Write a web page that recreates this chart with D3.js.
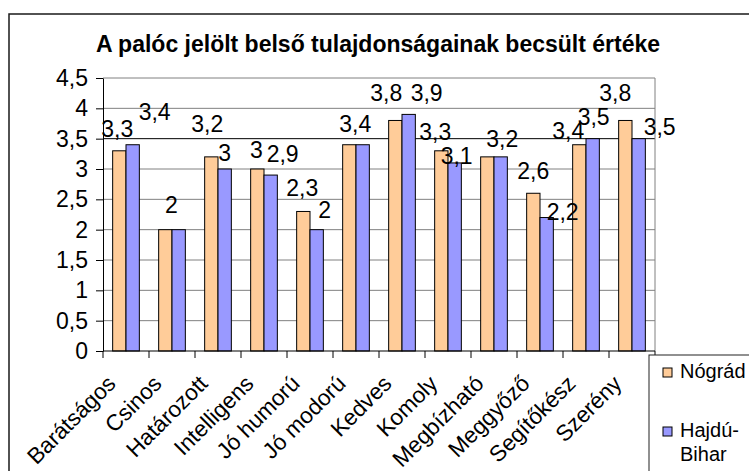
<!DOCTYPE html>
<html>
<head>
<meta charset="utf-8">
<script src="https://cdn.jsdelivr.net/npm/d3@7"></script>
<style>
  body { margin: 0; background: #fff; }
  svg { display: block; font-family: "Liberation Sans", Arial, sans-serif; }
</style>
</head>
<body>
<div id="vis"></div>
<script>
const WIDTH = 749
const HEIGHT = 471

const title = 'A palóc jelölt belső tulajdonságainak becsült értéke'
const categories = ['Barátságos', 'Csinos', 'Határozott', 'Intelligens', 'Jó humorú', 'Jó modorú',
	'Kedves', 'Komoly', 'Megbízható', 'Meggyőző', 'Segítőkész', 'Szerény']
const seriesNames = ['Nógrád', 'Hajdú-Bihar']
const nogradValues = [3.3, 2, 3.2, 3, 2.3, 3.4, 3.8, 3.3, 3.2, 2.6, 3.4, 3.8]
const hajduValues = [3.4, 2, 3, 2.9, 2, 3.4, 3.9, 3.1, 3.2, 2.2, 3.5, 3.5]
const yTicks = [0, 0.5, 1, 1.5, 2, 2.5, 3, 3.5, 4, 4.5]

const seriesColors = ['#ffcc99', '#9999ff']

// the data labels in the original were dragged by hand: [dx, dy] from the bar top, null = hidden
const nogradLabelShift = [[-2, -14], [6, -17], [-4, -25], [-1, -11], [-1, -15], [6, -13],
	[-9, -19], [-6, -11], [15, -10], [0, -14], [-11, -6], [-10, -19]]
const hajduLabelShift = [[22, -25], null, [0, -8], [12, -13], [8, -12], null,
	[18, -13], [2, 1], null, [16, 2], [1, -14], [21, -4]]

const huLocale = d3.formatLocale({ decimal: ',', thousands: ' ', grouping: [3], currency: ['', ' Ft'] })
const fmt = huLocale.format('~g')

const margin = { left: 103, right: 655, top: 78, bottom: 351 }

let svg = d3.select('#vis')
	.append('svg')
	.attr('width', WIDTH)
	.attr('height', HEIGHT)

// outer chart border (runs off the right and bottom of the picture)
svg.append('rect')
	.attr('x', 9).attr('y', 14)
	.attr('width', WIDTH + 20).attr('height', HEIGHT + 20)
	.attr('fill', '#fff')
	.attr('stroke', '#1a1a1a')
	.attr('stroke-width', 1.5)

svg.append('text')
	.attr('x', 378)
	.attr('y', 52)
	.attr('text-anchor', 'middle')
	.style('font-size', '23px')
	.style('font-weight', 'bold')
	.text(title)

let x = d3.scaleBand()
	.domain(categories)
	.range([margin.left, margin.right])
	.paddingInner(0.42)
	.paddingOuter(0.21)

let x1 = d3.scaleBand()
	.domain(seriesNames)
	.range([0, x.bandwidth()])

let y = d3.scaleLinear()
	.domain([0, 4.5])
	.range([margin.bottom, margin.top])

// gridlines
svg.append('g')
	.selectAll('line')
	.data(yTicks.slice(1))
	.enter()
	.append('line')
	.attr('x1', margin.left)
	.attr('x2', margin.right)
	.attr('y1', d => y(d))
	.attr('y2', d => y(d))
	.attr('stroke', d => d === 3.5 ? '#000' : '#808080')
	.attr('stroke-width', 1)

svg.append('line')
	.attr('x1', margin.right).attr('x2', margin.right)
	.attr('y1', margin.top).attr('y2', margin.bottom)
	.attr('stroke', '#808080')

// bars
let series = [
	{ name: seriesNames[0], values: nogradValues, shift: nogradLabelShift, color: seriesColors[0] },
	{ name: seriesNames[1], values: hajduValues, shift: hajduLabelShift, color: seriesColors[1] }
]

series.forEach(s => {
	svg.append('g')
		.selectAll('rect')
		.data(s.values)
		.enter()
		.append('rect')
		.attr('x', (d, i) => x(categories[i]) + x1(s.name))
		.attr('y', d => y(d))
		.attr('width', x1.bandwidth())
		.attr('height', d => y(0) - y(d))
		.attr('fill', s.color)
		.attr('stroke', '#000')
		.attr('stroke-width', 1)
})

// data labels
series.forEach(s => {
	svg.append('g')
		.selectAll('text')
		.data(s.values.map((v, i) => ({ v, i, shift: s.shift[i] })).filter(d => d.shift))
		.enter()
		.append('text')
		.attr('x', d => x(categories[d.i]) + x1(s.name) + x1.bandwidth() / 2 + d.shift[0])
		.attr('y', d => y(d.v) + d.shift[1])
		.attr('text-anchor', 'middle')
		.style('font-size', '23px')
		.text(d => fmt(d.v))
})

// y axis
let yAxis = d3.axisLeft(y)
	.tickValues(yTicks)
	.tickSize(7)
	.tickSizeOuter(0)
	.tickPadding(8)
	.tickFormat(fmt)

svg.append('g')
	.attr('class', 'y-axis')
	.attr('transform', `translate(${margin.left},0)`)
	.call(yAxis)
	.call(g => g.selectAll('text').style('font-size', '23px').attr('fill', '#000'))
	.call(g => g.selectAll('line, path').attr('stroke', '#000'))

// x axis line + ticks between categories
let gap = (x.step() - x.bandwidth()) / 2
let bounds = categories.map(c => x(c) - gap).concat([x(categories[categories.length - 1]) + x.bandwidth() + gap])

svg.append('line')
	.attr('x1', margin.left).attr('x2', margin.right)
	.attr('y1', y(0)).attr('y2', y(0))
	.attr('stroke', '#000')

svg.append('g')
	.selectAll('line')
	.data(bounds)
	.enter()
	.append('line')
	.attr('x1', d => d).attr('x2', d => d)
	.attr('y1', y(0)).attr('y2', y(0) + 7)
	.attr('stroke', '#000')

svg.append('g')
	.selectAll('text')
	.data(categories)
	.enter()
	.append('text')
	.attr('transform', d => `translate(${x(d) + x.bandwidth() / 2 - 9},385) rotate(-45)`)
	.attr('text-anchor', 'end')
	.style('font-size', '22.5px')
	.text(d => d)

// legend
let legend = svg.append('g')
legend.append('rect')
	.attr('x', 649).attr('y', 355)
	.attr('width', 200).attr('height', 200)
	.attr('fill', '#fff')
	.attr('stroke', '#222')

let legendRows = [
	{ lines: ['Nógrád'], color: seriesColors[0], top: 368 },
	{ lines: ['Hajdú-', 'Bihar'], color: seriesColors[1], top: 427 }
]
legendRows.forEach(r => {
	legend.append('rect')
		.attr('x', 663).attr('y', r.top)
		.attr('width', 9).attr('height', 9)
		.attr('fill', r.color)
		.attr('stroke', '#000')
	let t = legend.append('text')
		.attr('x', 680)
		.attr('y', r.top + 10)
		.style('font-size', '20px')
	r.lines.forEach((line, k) => {
		t.append('tspan')
			.attr('x', 680)
			.attr('dy', k === 0 ? 0 : 24)
			.text(line)
	})
})
</script>
</body>
</html>
